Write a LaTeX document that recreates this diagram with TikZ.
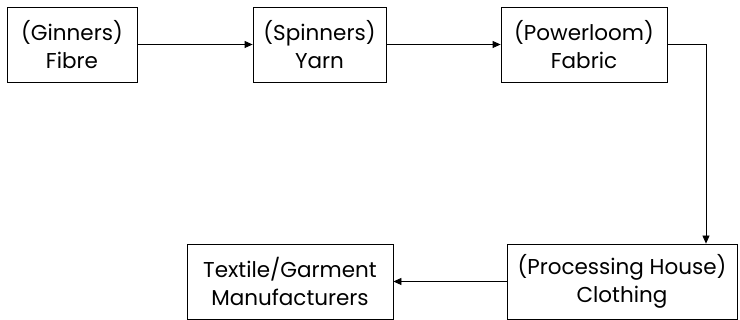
\documentclass[tikz,border=0pt]{standalone}
\usepackage{fontspec}
\setmainfont{Poppins}
\usetikzlibrary{arrows.meta}
\begin{document}
\begin{tikzpicture}[x=1pt,y=1pt,
  box/.style={draw, line width=0.8pt, minimum height=75pt, inner sep=0pt, align=center, font=\fontsize{21.5}{28.5}\selectfont},
  conn/.style={line width=0.8pt, -{Triangle[length=8pt,width=7pt]}}]
\useasboundingbox (0,0) rectangle (740,320);
\node[box, minimum width=130pt] (b1) at (72,275.5) {(Ginners)\\Fibre};
\node[box, minimum width=133pt] (b2) at (319.5,275.5) {(Spinners)\\Yarn};
\node[box, minimum width=166pt] (b3) at (584,275.5) {(Powerloom)\\Fabric};
\node[box, minimum width=230pt] (b4) at (622,38.5) {(Processing House)\\Clothing};
\node[box, minimum width=206pt] (b5) at (290,38.5) {Textile/Garment\\Manufacturers};
\coordinate (c) at (706,275.5);
\draw[conn] (b1) -- (b2);
\draw[conn] (b2) -- (b3);
\draw[conn] (b3.east) -- (c) -- (c |- b4.north);
\draw[conn] (b4) -- (b5);
\end{tikzpicture}
\end{document}
